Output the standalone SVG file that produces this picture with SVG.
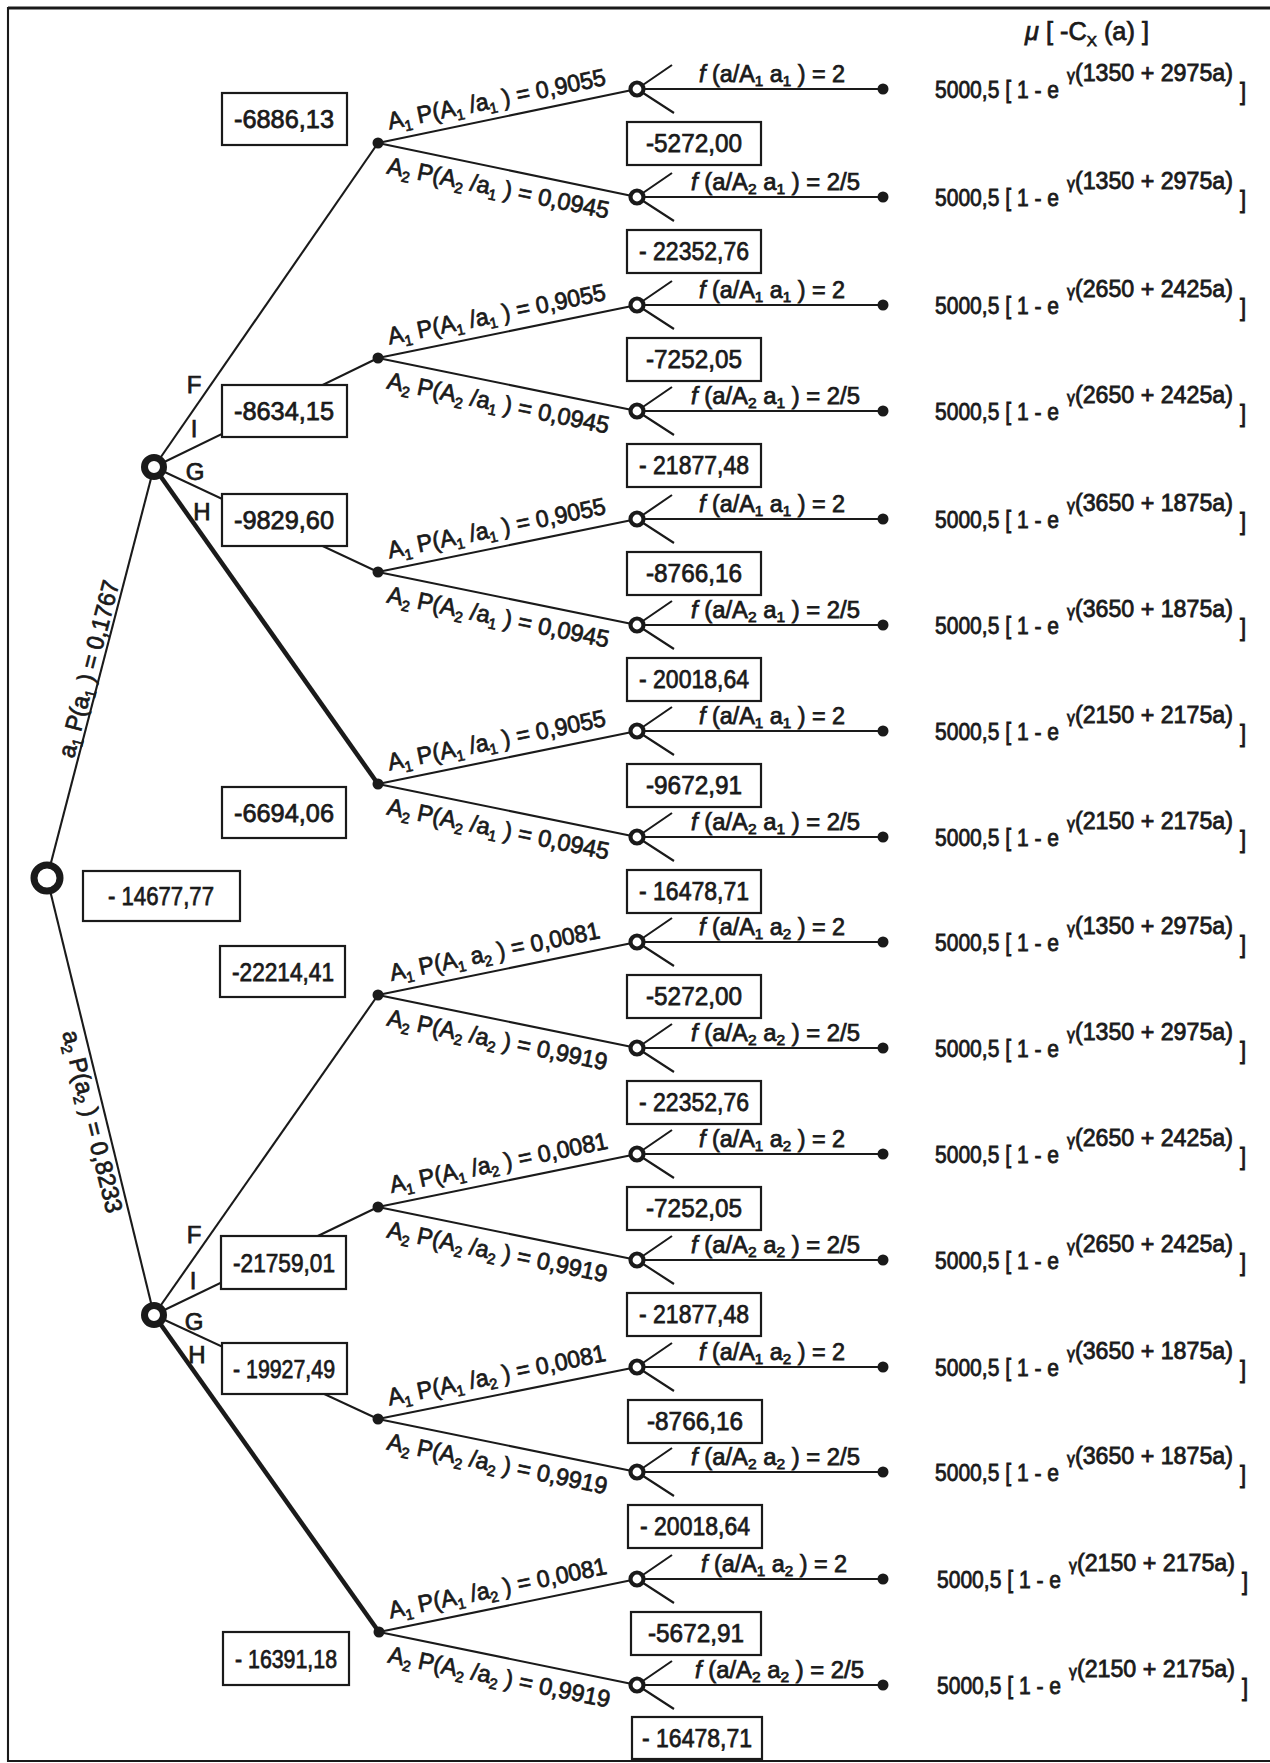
<svg xmlns="http://www.w3.org/2000/svg" width="1270" height="1763" viewBox="0 0 1270 1763">
<defs>
<style>
text{font-family:"Liberation Sans",Arial,Helvetica,sans-serif;fill:#1a1a1a;stroke:#1a1a1a;stroke-width:0.75}
.v{font-size:26px;text-anchor:middle}
.p{font-size:24px}
.f{font-size:23px}
.m{font-size:25px}
.u{font-size:22px}
.g{font-size:15px}
.L{font-size:24px;text-anchor:middle}
.s{font-size:15px}
.i{font-style:italic}
.ln{stroke:#1a1a1a;stroke-width:2.1;fill:none}
.thick{stroke:#1a1a1a;stroke-width:4.5;fill:none}
.box{fill:#fff;stroke:#1a1a1a;stroke-width:2.2}
.big{fill:#fff;stroke:#1a1a1a;stroke-width:7}
.oc{fill:#fff;stroke:#1a1a1a;stroke-width:4.2}
.dot{fill:#1a1a1a}
</style>
</defs>
<rect width="1270" height="1763" fill="#fff"/>
<g id="frame" class="ln">
<line x1="8" y1="8" x2="1270" y2="8" stroke-width="3"/>
<line x1="8" y1="7" x2="8" y2="1762"/>
<line x1="7" y1="1761" x2="1270" y2="1761"/>
</g>

<g id="connectors">
<line class="ln" x1="47" y1="878" x2="154" y2="467"/>
<line class="ln" x1="47" y1="878" x2="154" y2="1315"/>
<line class="ln" x1="154" y1="467" x2="378" y2="143"/>
<line class="ln" x1="154" y1="467" x2="378" y2="358"/>
<line class="ln" x1="154" y1="467" x2="378" y2="572"/>
<line class="thick" x1="154" y1="467" x2="378" y2="784"/>
<line class="ln" x1="154" y1="1315" x2="378" y2="995"/>
<line class="ln" x1="154" y1="1315" x2="378" y2="1207"/>
<line class="ln" x1="154" y1="1315" x2="378" y2="1419"/>
<line class="thick" x1="154" y1="1315" x2="379" y2="1632"/>
<line class="ln" x1="378" y1="143" x2="637" y2="89"/>
<line class="ln" x1="378" y1="143" x2="637" y2="197"/>
<line class="ln" x1="378" y1="358" x2="637" y2="305"/>
<line class="ln" x1="378" y1="358" x2="637" y2="411"/>
<line class="ln" x1="378" y1="572" x2="637" y2="519"/>
<line class="ln" x1="378" y1="572" x2="637" y2="625"/>
<line class="ln" x1="378" y1="784" x2="637" y2="731"/>
<line class="ln" x1="378" y1="784" x2="637" y2="837"/>
<line class="ln" x1="378" y1="995" x2="637" y2="942"/>
<line class="ln" x1="378" y1="995" x2="637" y2="1048"/>
<line class="ln" x1="378" y1="1207" x2="637" y2="1154"/>
<line class="ln" x1="378" y1="1207" x2="637" y2="1260"/>
<line class="ln" x1="378" y1="1419" x2="637" y2="1367"/>
<line class="ln" x1="378" y1="1419" x2="637" y2="1472"/>
<line class="ln" x1="379" y1="1632" x2="637" y2="1579"/>
<line class="ln" x1="379" y1="1632" x2="637" y2="1685"/>
<path class="ln" d="M637 89H883M637 197H883M637 305H883M637 411H883M637 519H883M637 625H883M637 731H883M637 837H883M637 942H883M637 1048H883M637 1154H883M637 1260H883M637 1367H883M637 1472H883M637 1579H883M637 1685H883"/>
</g>

<g id="branch-labels">
<g transform="translate(47,878) rotate(-75.44)"><text class="p" x="122" y="-4" textLength="182" lengthAdjust="spacingAndGlyphs">a<tspan class="s" dy="5">1</tspan><tspan dy="-5">  P(a</tspan><tspan class="s" dy="5">1</tspan><tspan dy="-5"> ) = 0,1767</tspan></text></g>
<g transform="translate(47,878) rotate(76.2)"><text class="p" x="154" y="22" textLength="187" lengthAdjust="spacingAndGlyphs">a<tspan class="s" dy="5">2</tspan><tspan dy="-5">   P(a</tspan><tspan class="s" dy="5">2</tspan><tspan dy="-5"> ) = 0,8233</tspan></text></g>
<text class="L" x="194" y="393">F</text>
<text class="L" x="194" y="437">I</text>
<text class="L" x="195" y="480">G</text>
<text class="L" x="202" y="520">H</text>
<text class="L" x="194" y="1243">F</text>
<text class="L" x="193" y="1289">I</text>
<text class="L" x="194" y="1330">G</text>
<text class="L" x="197" y="1363">H</text>
</g>

<g id="prob-labels">
<g transform="translate(378,143) rotate(-11.6)"><text class="p" x="14" y="-11" textLength="222" lengthAdjust="spacingAndGlyphs">A<tspan class="s" dy="5">1</tspan><tspan dy="-5"> P(A</tspan><tspan class="s" dy="5">1</tspan><tspan dy="-5"> /a</tspan><tspan class="s" dy="5">1</tspan><tspan dy="-5"> ) = 0,9055</tspan></text></g>
<g transform="translate(378,143) rotate(11.6)"><text class="p" x="14" y="28" textLength="226" lengthAdjust="spacingAndGlyphs">A<tspan class="s" dy="5">2</tspan><tspan dy="-5"> P(A</tspan><tspan class="s" dy="5">2</tspan><tspan dy="-5"> /a</tspan><tspan class="s" dy="5">1</tspan><tspan dy="-5"> ) = 0,0945</tspan></text></g>
<g transform="translate(378,358) rotate(-11.6)"><text class="p" x="14" y="-11" textLength="222" lengthAdjust="spacingAndGlyphs">A<tspan class="s" dy="5">1</tspan><tspan dy="-5"> P(A</tspan><tspan class="s" dy="5">1</tspan><tspan dy="-5"> /a</tspan><tspan class="s" dy="5">1</tspan><tspan dy="-5"> ) = 0,9055</tspan></text></g>
<g transform="translate(378,358) rotate(11.6)"><text class="p" x="14" y="28" textLength="226" lengthAdjust="spacingAndGlyphs">A<tspan class="s" dy="5">2</tspan><tspan dy="-5"> P(A</tspan><tspan class="s" dy="5">2</tspan><tspan dy="-5"> /a</tspan><tspan class="s" dy="5">1</tspan><tspan dy="-5"> ) = 0,0945</tspan></text></g>
<g transform="translate(378,572) rotate(-11.6)"><text class="p" x="14" y="-11" textLength="222" lengthAdjust="spacingAndGlyphs">A<tspan class="s" dy="5">1</tspan><tspan dy="-5"> P(A</tspan><tspan class="s" dy="5">1</tspan><tspan dy="-5"> /a</tspan><tspan class="s" dy="5">1</tspan><tspan dy="-5"> ) = 0,9055</tspan></text></g>
<g transform="translate(378,572) rotate(11.6)"><text class="p" x="14" y="28" textLength="226" lengthAdjust="spacingAndGlyphs">A<tspan class="s" dy="5">2</tspan><tspan dy="-5"> P(A</tspan><tspan class="s" dy="5">2</tspan><tspan dy="-5"> /a</tspan><tspan class="s" dy="5">1</tspan><tspan dy="-5"> ) = 0,0945</tspan></text></g>
<g transform="translate(378,784) rotate(-11.6)"><text class="p" x="14" y="-11" textLength="222" lengthAdjust="spacingAndGlyphs">A<tspan class="s" dy="5">1</tspan><tspan dy="-5"> P(A</tspan><tspan class="s" dy="5">1</tspan><tspan dy="-5"> /a</tspan><tspan class="s" dy="5">1</tspan><tspan dy="-5"> ) = 0,9055</tspan></text></g>
<g transform="translate(378,784) rotate(11.6)"><text class="p" x="14" y="28" textLength="226" lengthAdjust="spacingAndGlyphs">A<tspan class="s" dy="5">2</tspan><tspan dy="-5"> P(A</tspan><tspan class="s" dy="5">2</tspan><tspan dy="-5"> /a</tspan><tspan class="s" dy="5">1</tspan><tspan dy="-5"> ) = 0,0945</tspan></text></g>
<g transform="translate(378,995) rotate(-11.6)"><text class="p" x="16" y="-11" textLength="214" lengthAdjust="spacingAndGlyphs">A<tspan class="s" dy="5">1</tspan><tspan dy="-5"> P(A</tspan><tspan class="s" dy="5">1</tspan><tspan dy="-5"> a</tspan><tspan class="s" dy="5">2</tspan><tspan dy="-5"> ) = 0,0081</tspan></text></g>
<g transform="translate(378,995) rotate(11.6)"><text class="p" x="14" y="28" textLength="224" lengthAdjust="spacingAndGlyphs">A<tspan class="s" dy="5">2</tspan><tspan dy="-5"> P(A</tspan><tspan class="s" dy="5">2</tspan><tspan dy="-5"> /a</tspan><tspan class="s" dy="5">2</tspan><tspan dy="-5"> ) = 0,9919</tspan></text></g>
<g transform="translate(378,1207) rotate(-11.6)"><text class="p" x="16" y="-11" textLength="222" lengthAdjust="spacingAndGlyphs">A<tspan class="s" dy="5">1</tspan><tspan dy="-5"> P(A</tspan><tspan class="s" dy="5">1</tspan><tspan dy="-5"> /a</tspan><tspan class="s" dy="5">2</tspan><tspan dy="-5"> ) = 0,0081</tspan></text></g>
<g transform="translate(378,1207) rotate(11.6)"><text class="p" x="14" y="28" textLength="224" lengthAdjust="spacingAndGlyphs">A<tspan class="s" dy="5">2</tspan><tspan dy="-5"> P(A</tspan><tspan class="s" dy="5">2</tspan><tspan dy="-5"> /a</tspan><tspan class="s" dy="5">2</tspan><tspan dy="-5"> ) = 0,9919</tspan></text></g>
<g transform="translate(378,1419) rotate(-11.6)"><text class="p" x="14" y="-11" textLength="222" lengthAdjust="spacingAndGlyphs">A<tspan class="s" dy="5">1</tspan><tspan dy="-5"> P(A</tspan><tspan class="s" dy="5">1</tspan><tspan dy="-5"> /a</tspan><tspan class="s" dy="5">2</tspan><tspan dy="-5"> ) = 0,0081</tspan></text></g>
<g transform="translate(378,1419) rotate(11.6)"><text class="p" x="14" y="28" textLength="224" lengthAdjust="spacingAndGlyphs">A<tspan class="s" dy="5">2</tspan><tspan dy="-5"> P(A</tspan><tspan class="s" dy="5">2</tspan><tspan dy="-5"> /a</tspan><tspan class="s" dy="5">2</tspan><tspan dy="-5"> ) = 0,9919</tspan></text></g>
<g transform="translate(379,1632) rotate(-11.6)"><text class="p" x="14" y="-11" textLength="222" lengthAdjust="spacingAndGlyphs">A<tspan class="s" dy="5">1</tspan><tspan dy="-5"> P(A</tspan><tspan class="s" dy="5">1</tspan><tspan dy="-5"> /a</tspan><tspan class="s" dy="5">2</tspan><tspan dy="-5"> ) = 0,0081</tspan></text></g>
<g transform="translate(379,1632) rotate(11.6)"><text class="p" x="14" y="28" textLength="226" lengthAdjust="spacingAndGlyphs">A<tspan class="s" dy="5">2</tspan><tspan dy="-5"> P(A</tspan><tspan class="s" dy="5">2</tspan><tspan dy="-5"> /a</tspan><tspan class="s" dy="5">2</tspan><tspan dy="-5"> ) = 0,9919</tspan></text></g>
</g>

<g id="f-labels">
<text class="f" x="699" y="82" textLength="146" lengthAdjust="spacingAndGlyphs"><tspan class="i">f</tspan> (a/A<tspan class="s" dy="4">1</tspan><tspan dy="-4"> a</tspan><tspan class="s" dy="4">1</tspan><tspan dy="-4"> ) = 2</tspan></text>
<text class="f" x="691" y="190" textLength="169" lengthAdjust="spacingAndGlyphs"><tspan class="i">f</tspan> (a/A<tspan class="s" dy="4">2</tspan><tspan dy="-4"> a</tspan><tspan class="s" dy="4">1</tspan><tspan dy="-4"> ) = 2/5</tspan></text>
<text class="f" x="699" y="298" textLength="146" lengthAdjust="spacingAndGlyphs"><tspan class="i">f</tspan> (a/A<tspan class="s" dy="4">1</tspan><tspan dy="-4"> a</tspan><tspan class="s" dy="4">1</tspan><tspan dy="-4"> ) = 2</tspan></text>
<text class="f" x="691" y="404" textLength="169" lengthAdjust="spacingAndGlyphs"><tspan class="i">f</tspan> (a/A<tspan class="s" dy="4">2</tspan><tspan dy="-4"> a</tspan><tspan class="s" dy="4">1</tspan><tspan dy="-4"> ) = 2/5</tspan></text>
<text class="f" x="699" y="512" textLength="146" lengthAdjust="spacingAndGlyphs"><tspan class="i">f</tspan> (a/A<tspan class="s" dy="4">1</tspan><tspan dy="-4"> a</tspan><tspan class="s" dy="4">1</tspan><tspan dy="-4"> ) = 2</tspan></text>
<text class="f" x="691" y="618" textLength="169" lengthAdjust="spacingAndGlyphs"><tspan class="i">f</tspan> (a/A<tspan class="s" dy="4">2</tspan><tspan dy="-4"> a</tspan><tspan class="s" dy="4">1</tspan><tspan dy="-4"> ) = 2/5</tspan></text>
<text class="f" x="699" y="724" textLength="146" lengthAdjust="spacingAndGlyphs"><tspan class="i">f</tspan> (a/A<tspan class="s" dy="4">1</tspan><tspan dy="-4"> a</tspan><tspan class="s" dy="4">1</tspan><tspan dy="-4"> ) = 2</tspan></text>
<text class="f" x="691" y="830" textLength="169" lengthAdjust="spacingAndGlyphs"><tspan class="i">f</tspan> (a/A<tspan class="s" dy="4">2</tspan><tspan dy="-4"> a</tspan><tspan class="s" dy="4">1</tspan><tspan dy="-4"> ) = 2/5</tspan></text>
<text class="f" x="699" y="935" textLength="146" lengthAdjust="spacingAndGlyphs"><tspan class="i">f</tspan> (a/A<tspan class="s" dy="4">1</tspan><tspan dy="-4"> a</tspan><tspan class="s" dy="4">2</tspan><tspan dy="-4"> ) = 2</tspan></text>
<text class="f" x="691" y="1041" textLength="169" lengthAdjust="spacingAndGlyphs"><tspan class="i">f</tspan> (a/A<tspan class="s" dy="4">2</tspan><tspan dy="-4"> a</tspan><tspan class="s" dy="4">2</tspan><tspan dy="-4"> ) = 2/5</tspan></text>
<text class="f" x="699" y="1147" textLength="146" lengthAdjust="spacingAndGlyphs"><tspan class="i">f</tspan> (a/A<tspan class="s" dy="4">1</tspan><tspan dy="-4"> a</tspan><tspan class="s" dy="4">2</tspan><tspan dy="-4"> ) = 2</tspan></text>
<text class="f" x="691" y="1253" textLength="169" lengthAdjust="spacingAndGlyphs"><tspan class="i">f</tspan> (a/A<tspan class="s" dy="4">2</tspan><tspan dy="-4"> a</tspan><tspan class="s" dy="4">2</tspan><tspan dy="-4"> ) = 2/5</tspan></text>
<text class="f" x="699" y="1360" textLength="146" lengthAdjust="spacingAndGlyphs"><tspan class="i">f</tspan> (a/A<tspan class="s" dy="4">1</tspan><tspan dy="-4"> a</tspan><tspan class="s" dy="4">2</tspan><tspan dy="-4"> ) = 2</tspan></text>
<text class="f" x="691" y="1465" textLength="169" lengthAdjust="spacingAndGlyphs"><tspan class="i">f</tspan> (a/A<tspan class="s" dy="4">2</tspan><tspan dy="-4"> a</tspan><tspan class="s" dy="4">2</tspan><tspan dy="-4"> ) = 2/5</tspan></text>
<text class="f" x="701" y="1572" textLength="146" lengthAdjust="spacingAndGlyphs"><tspan class="i">f</tspan> (a/A<tspan class="s" dy="4">1</tspan><tspan dy="-4"> a</tspan><tspan class="s" dy="4">2</tspan><tspan dy="-4"> ) = 2</tspan></text>
<text class="f" x="695" y="1678" textLength="169" lengthAdjust="spacingAndGlyphs"><tspan class="i">f</tspan> (a/A<tspan class="s" dy="4">2</tspan><tspan dy="-4"> a</tspan><tspan class="s" dy="4">2</tspan><tspan dy="-4"> ) = 2/5</tspan></text>
</g>

<g id="value-boxes-left">
<g id="v-F-a1"><rect class="box" x="222" y="93" width="125" height="52"/><text class="v" x="284" y="128" textLength="100" lengthAdjust="spacingAndGlyphs">-6886,13</text></g>
<g id="v-I-a1"><rect class="box" x="222" y="385" width="125" height="52"/><text class="v" x="284" y="420" textLength="100" lengthAdjust="spacingAndGlyphs">-8634,15</text></g>
<g id="v-G-a1"><rect class="box" x="222" y="494" width="125" height="52"/><text class="v" x="284" y="529" textLength="100" lengthAdjust="spacingAndGlyphs">-9829,60</text></g>
<g id="v-H-a1"><rect class="box" x="222" y="787" width="124" height="51"/><text class="v" x="284" y="822" textLength="100" lengthAdjust="spacingAndGlyphs">-6694,06</text></g>
<g id="v-root"><rect class="box" x="83" y="871" width="157" height="50"/><text class="v" x="161" y="905" textLength="106" lengthAdjust="spacingAndGlyphs">- 14677,77</text></g>
<g id="v-F-a2"><rect class="box" x="220" y="946" width="125" height="51"/><text class="v" x="283" y="981" textLength="102" lengthAdjust="spacingAndGlyphs">-22214,41</text></g>
<g id="v-I-a2"><rect class="box" x="221" y="1236" width="125" height="53"/><text class="v" x="284" y="1272" textLength="102" lengthAdjust="spacingAndGlyphs">-21759,01</text></g>
<g id="v-G-a2"><rect class="box" x="222" y="1343" width="125" height="51"/><text class="v" x="284" y="1378" textLength="102" lengthAdjust="spacingAndGlyphs">- 19927,49</text></g>
<g id="v-H-a2"><rect class="box" x="223" y="1632" width="126" height="53"/><text class="v" x="286" y="1668" textLength="102" lengthAdjust="spacingAndGlyphs">- 16391,18</text></g>
</g>

<g id="value-boxes-right">
<g id="v-t0"><rect class="box" x="627" y="122" width="134" height="43"/><text class="v" x="694" y="152" textLength="96" lengthAdjust="spacingAndGlyphs">-5272,00</text></g>
<g id="v-t1"><rect class="box" x="627" y="230" width="134" height="43"/><text class="v" x="694" y="260" textLength="110" lengthAdjust="spacingAndGlyphs">- 22352,76</text></g>
<g id="v-t2"><rect class="box" x="627" y="338" width="134" height="43"/><text class="v" x="694" y="368" textLength="96" lengthAdjust="spacingAndGlyphs">-7252,05</text></g>
<g id="v-t3"><rect class="box" x="627" y="444" width="134" height="43"/><text class="v" x="694" y="474" textLength="110" lengthAdjust="spacingAndGlyphs">- 21877,48</text></g>
<g id="v-t4"><rect class="box" x="627" y="552" width="134" height="43"/><text class="v" x="694" y="582" textLength="96" lengthAdjust="spacingAndGlyphs">-8766,16</text></g>
<g id="v-t5"><rect class="box" x="627" y="658" width="134" height="43"/><text class="v" x="694" y="688" textLength="110" lengthAdjust="spacingAndGlyphs">- 20018,64</text></g>
<g id="v-t6"><rect class="box" x="627" y="764" width="134" height="43"/><text class="v" x="694" y="794" textLength="96" lengthAdjust="spacingAndGlyphs">-9672,91</text></g>
<g id="v-t7"><rect class="box" x="627" y="870" width="134" height="43"/><text class="v" x="694" y="900" textLength="110" lengthAdjust="spacingAndGlyphs">- 16478,71</text></g>
<g id="v-t8"><rect class="box" x="627" y="975" width="134" height="43"/><text class="v" x="694" y="1005" textLength="96" lengthAdjust="spacingAndGlyphs">-5272,00</text></g>
<g id="v-t9"><rect class="box" x="627" y="1081" width="134" height="43"/><text class="v" x="694" y="1111" textLength="110" lengthAdjust="spacingAndGlyphs">- 22352,76</text></g>
<g id="v-t10"><rect class="box" x="627" y="1187" width="134" height="43"/><text class="v" x="694" y="1217" textLength="96" lengthAdjust="spacingAndGlyphs">-7252,05</text></g>
<g id="v-t11"><rect class="box" x="627" y="1293" width="134" height="43"/><text class="v" x="694" y="1323" textLength="110" lengthAdjust="spacingAndGlyphs">- 21877,48</text></g>
<g id="v-t12"><rect class="box" x="628" y="1400" width="134" height="43"/><text class="v" x="695" y="1430" textLength="96" lengthAdjust="spacingAndGlyphs">-8766,16</text></g>
<g id="v-t13"><rect class="box" x="628" y="1505" width="134" height="43"/><text class="v" x="695" y="1535" textLength="110" lengthAdjust="spacingAndGlyphs">- 20018,64</text></g>
<g id="v-t14"><rect class="box" x="631" y="1612" width="130" height="43"/><text class="v" x="696" y="1642" textLength="96" lengthAdjust="spacingAndGlyphs">-5672,91</text></g>
<g id="v-t15"><rect class="box" x="632" y="1717" width="130" height="42"/><text class="v" x="697" y="1747" textLength="110" lengthAdjust="spacingAndGlyphs">- 16478,71</text></g>
</g>

<g id="chance-root"><circle class="big" cx="47" cy="878" r="13"/></g>
<g id="chance-a1"><circle class="big" cx="154" cy="467" r="9.5" stroke-width="6.5"/></g>
<g id="chance-a2"><circle class="big" cx="154" cy="1315" r="9.5" stroke-width="6.5"/></g>

<g id="decision-points" class="dot">
<circle id="d1" cx="378" cy="143" r="5.5"/>
<circle id="d2" cx="378" cy="358" r="5.5"/>
<circle id="d3" cx="378" cy="572" r="5.5"/>
<circle id="d4" cx="378" cy="784" r="5.5"/>
<circle id="d5" cx="378" cy="995" r="5.5"/>
<circle id="d6" cx="378" cy="1207" r="5.5"/>
<circle id="d7" cx="378" cy="1419" r="5.5"/>
<circle id="d8" cx="379" cy="1632" r="5.5"/>
</g>

<g id="outcome-nodes">
<g id="o0"><path class="ln" d="M637 89L672 65M637 89L674 113"/><circle class="oc" cx="637" cy="89" r="6.5"/></g>
<g id="o1"><path class="ln" d="M637 197L672 173M637 197L674 221"/><circle class="oc" cx="637" cy="197" r="6.5"/></g>
<g id="o2"><path class="ln" d="M637 305L672 281M637 305L674 329"/><circle class="oc" cx="637" cy="305" r="6.5"/></g>
<g id="o3"><path class="ln" d="M637 411L672 387M637 411L674 435"/><circle class="oc" cx="637" cy="411" r="6.5"/></g>
<g id="o4"><path class="ln" d="M637 519L672 495M637 519L674 543"/><circle class="oc" cx="637" cy="519" r="6.5"/></g>
<g id="o5"><path class="ln" d="M637 625L672 601M637 625L674 649"/><circle class="oc" cx="637" cy="625" r="6.5"/></g>
<g id="o6"><path class="ln" d="M637 731L672 707M637 731L674 755"/><circle class="oc" cx="637" cy="731" r="6.5"/></g>
<g id="o7"><path class="ln" d="M637 837L672 813M637 837L674 861"/><circle class="oc" cx="637" cy="837" r="6.5"/></g>
<g id="o8"><path class="ln" d="M637 942L672 918M637 942L674 966"/><circle class="oc" cx="637" cy="942" r="6.5"/></g>
<g id="o9"><path class="ln" d="M637 1048L672 1024M637 1048L674 1072"/><circle class="oc" cx="637" cy="1048" r="6.5"/></g>
<g id="o10"><path class="ln" d="M637 1154L672 1130M637 1154L674 1178"/><circle class="oc" cx="637" cy="1154" r="6.5"/></g>
<g id="o11"><path class="ln" d="M637 1260L672 1236M637 1260L674 1284"/><circle class="oc" cx="637" cy="1260" r="6.5"/></g>
<g id="o12"><path class="ln" d="M637 1367L672 1343M637 1367L674 1391"/><circle class="oc" cx="637" cy="1367" r="6.5"/></g>
<g id="o13"><path class="ln" d="M637 1472L672 1448M637 1472L674 1496"/><circle class="oc" cx="637" cy="1472" r="6.5"/></g>
<g id="o14"><path class="ln" d="M637 1579L672 1555M637 1579L674 1603"/><circle class="oc" cx="637" cy="1579" r="6.5"/></g>
<g id="o15"><path class="ln" d="M637 1685L672 1661M637 1685L674 1709"/><circle class="oc" cx="637" cy="1685" r="6.5"/></g>
</g>

<g id="end-points" class="dot">
<circle cx="883" cy="89" r="5.5"/><circle cx="883" cy="197" r="5.5"/><circle cx="883" cy="305" r="5.5"/><circle cx="883" cy="411" r="5.5"/>
<circle cx="883" cy="519" r="5.5"/><circle cx="883" cy="625" r="5.5"/><circle cx="883" cy="731" r="5.5"/><circle cx="883" cy="837" r="5.5"/>
<circle cx="883" cy="942" r="5.5"/><circle cx="883" cy="1048" r="5.5"/><circle cx="883" cy="1154" r="5.5"/><circle cx="883" cy="1260" r="5.5"/>
<circle cx="883" cy="1367" r="5.5"/><circle cx="883" cy="1472" r="5.5"/><circle cx="883" cy="1579" r="5.5"/><circle cx="883" cy="1685" r="5.5"/>
</g>

<g id="utility-column">
<text class="m" x="1025" y="40" textLength="124" lengthAdjust="spacingAndGlyphs"><tspan class="i">μ</tspan> [ -C<tspan class="s" dy="6">X</tspan><tspan dy="-6"> (a) ]</tspan></text>
<g id="u0" transform="matrix(1,0,0,1.12,0,-11.76)"><text class="u" x="935" y="98" textLength="124" lengthAdjust="spacingAndGlyphs">5000,5 [ 1 - e</text><text class="u" x="1067" y="83" textLength="166" lengthAdjust="spacingAndGlyphs"><tspan class="g">γ</tspan>(1350 + 2975a)</text><text class="u" x="1240" y="100">]</text></g>
<g id="u1" transform="matrix(1,0,0,1.12,0,-24.72)"><text class="u" x="935" y="206" textLength="124" lengthAdjust="spacingAndGlyphs">5000,5 [ 1 - e</text><text class="u" x="1067" y="191" textLength="166" lengthAdjust="spacingAndGlyphs"><tspan class="g">γ</tspan>(1350 + 2975a)</text><text class="u" x="1240" y="208">]</text></g>
<g id="u2" transform="matrix(1,0,0,1.12,0,-37.68)"><text class="u" x="935" y="314" textLength="124" lengthAdjust="spacingAndGlyphs">5000,5 [ 1 - e</text><text class="u" x="1067" y="299" textLength="166" lengthAdjust="spacingAndGlyphs"><tspan class="g">γ</tspan>(2650 + 2425a)</text><text class="u" x="1240" y="316">]</text></g>
<g id="u3" transform="matrix(1,0,0,1.12,0,-50.4)"><text class="u" x="935" y="420" textLength="124" lengthAdjust="spacingAndGlyphs">5000,5 [ 1 - e</text><text class="u" x="1067" y="405" textLength="166" lengthAdjust="spacingAndGlyphs"><tspan class="g">γ</tspan>(2650 + 2425a)</text><text class="u" x="1240" y="422">]</text></g>
<g id="u4" transform="matrix(1,0,0,1.12,0,-63.36)"><text class="u" x="935" y="528" textLength="124" lengthAdjust="spacingAndGlyphs">5000,5 [ 1 - e</text><text class="u" x="1067" y="513" textLength="166" lengthAdjust="spacingAndGlyphs"><tspan class="g">γ</tspan>(3650 + 1875a)</text><text class="u" x="1240" y="530">]</text></g>
<g id="u5" transform="matrix(1,0,0,1.12,0,-76.08)"><text class="u" x="935" y="634" textLength="124" lengthAdjust="spacingAndGlyphs">5000,5 [ 1 - e</text><text class="u" x="1067" y="619" textLength="166" lengthAdjust="spacingAndGlyphs"><tspan class="g">γ</tspan>(3650 + 1875a)</text><text class="u" x="1240" y="636">]</text></g>
<g id="u6" transform="matrix(1,0,0,1.12,0,-88.8)"><text class="u" x="935" y="740" textLength="124" lengthAdjust="spacingAndGlyphs">5000,5 [ 1 - e</text><text class="u" x="1067" y="725" textLength="166" lengthAdjust="spacingAndGlyphs"><tspan class="g">γ</tspan>(2150 + 2175a)</text><text class="u" x="1240" y="742">]</text></g>
<g id="u7" transform="matrix(1,0,0,1.12,0,-101.52)"><text class="u" x="935" y="846" textLength="124" lengthAdjust="spacingAndGlyphs">5000,5 [ 1 - e</text><text class="u" x="1067" y="831" textLength="166" lengthAdjust="spacingAndGlyphs"><tspan class="g">γ</tspan>(2150 + 2175a)</text><text class="u" x="1240" y="848">]</text></g>
<g id="u8" transform="matrix(1,0,0,1.12,0,-114.12)"><text class="u" x="935" y="951" textLength="124" lengthAdjust="spacingAndGlyphs">5000,5 [ 1 - e</text><text class="u" x="1067" y="936" textLength="166" lengthAdjust="spacingAndGlyphs"><tspan class="g">γ</tspan>(1350 + 2975a)</text><text class="u" x="1240" y="953">]</text></g>
<g id="u9" transform="matrix(1,0,0,1.12,0,-126.84)"><text class="u" x="935" y="1057" textLength="124" lengthAdjust="spacingAndGlyphs">5000,5 [ 1 - e</text><text class="u" x="1067" y="1042" textLength="166" lengthAdjust="spacingAndGlyphs"><tspan class="g">γ</tspan>(1350 + 2975a)</text><text class="u" x="1240" y="1059">]</text></g>
<g id="u10" transform="matrix(1,0,0,1.12,0,-139.56)"><text class="u" x="935" y="1163" textLength="124" lengthAdjust="spacingAndGlyphs">5000,5 [ 1 - e</text><text class="u" x="1067" y="1148" textLength="166" lengthAdjust="spacingAndGlyphs"><tspan class="g">γ</tspan>(2650 + 2425a)</text><text class="u" x="1240" y="1165">]</text></g>
<g id="u11" transform="matrix(1,0,0,1.12,0,-152.28)"><text class="u" x="935" y="1269" textLength="124" lengthAdjust="spacingAndGlyphs">5000,5 [ 1 - e</text><text class="u" x="1067" y="1254" textLength="166" lengthAdjust="spacingAndGlyphs"><tspan class="g">γ</tspan>(2650 + 2425a)</text><text class="u" x="1240" y="1271">]</text></g>
<g id="u12" transform="matrix(1,0,0,1.12,0,-165.12)"><text class="u" x="935" y="1376" textLength="124" lengthAdjust="spacingAndGlyphs">5000,5 [ 1 - e</text><text class="u" x="1067" y="1361" textLength="166" lengthAdjust="spacingAndGlyphs"><tspan class="g">γ</tspan>(3650 + 1875a)</text><text class="u" x="1240" y="1378">]</text></g>
<g id="u13" transform="matrix(1,0,0,1.12,0,-177.72)"><text class="u" x="935" y="1481" textLength="124" lengthAdjust="spacingAndGlyphs">5000,5 [ 1 - e</text><text class="u" x="1067" y="1466" textLength="166" lengthAdjust="spacingAndGlyphs"><tspan class="g">γ</tspan>(3650 + 1875a)</text><text class="u" x="1240" y="1483">]</text></g>
<g id="u14" transform="matrix(1,0,0,1.12,0,-190.56)"><text class="u" x="937" y="1588" textLength="124" lengthAdjust="spacingAndGlyphs">5000,5 [ 1 - e</text><text class="u" x="1069" y="1573" textLength="166" lengthAdjust="spacingAndGlyphs"><tspan class="g">γ</tspan>(2150 + 2175a)</text><text class="u" x="1242" y="1590">]</text></g>
<g id="u15" transform="matrix(1,0,0,1.12,0,-203.28)"><text class="u" x="937" y="1694" textLength="124" lengthAdjust="spacingAndGlyphs">5000,5 [ 1 - e</text><text class="u" x="1069" y="1679" textLength="166" lengthAdjust="spacingAndGlyphs"><tspan class="g">γ</tspan>(2150 + 2175a)</text><text class="u" x="1242" y="1696">]</text></g>
</g>
</svg>
